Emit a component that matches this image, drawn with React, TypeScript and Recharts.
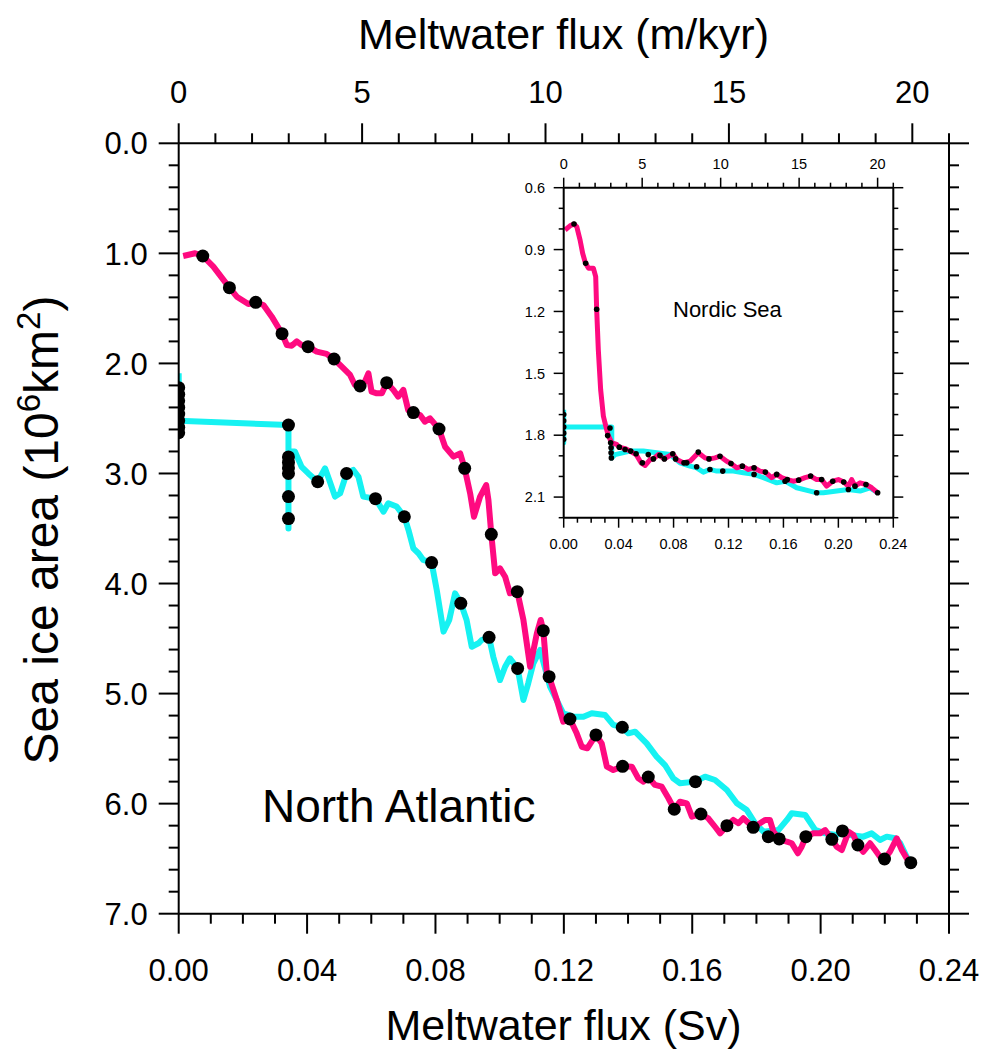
import React from 'react';
import { ComposedChart, Line, Scatter, XAxis, YAxis } from 'recharts';

const FONT = '"Liberation Sans", Arial, Helvetica, sans-serif';
const PINK = '#ff0a80';
const CYAN = '#16f2f2';

type P = [number, number];

// ---------- North Atlantic (main panel) ----------
const naPink: P[] = [
  [0.0014, 1.024], [0.0051, 0.999], [0.0075, 1.024], [0.0108, 1.121], [0.0158, 1.312], [0.0181, 1.394],
  [0.0217, 1.46], [0.024, 1.445], [0.0264, 1.469], [0.029, 1.575], [0.0322, 1.73], [0.0337, 1.833],
  [0.0352, 1.839], [0.0368, 1.8], [0.0383, 1.833], [0.0403, 1.848], [0.043, 1.893], [0.0461, 1.914],
  [0.0484, 1.96], [0.0508, 2.03], [0.0534, 2.105], [0.0549, 2.196], [0.0565, 2.205], [0.058, 2.166],
  [0.0591, 2.09], [0.0601, 2.257], [0.0617, 2.272], [0.0633, 2.272], [0.0648, 2.175], [0.0669, 2.241],
  [0.0684, 2.302], [0.07, 2.241], [0.0715, 2.423], [0.0731, 2.447], [0.0752, 2.469], [0.0767, 2.529],
  [0.0783, 2.499], [0.0811, 2.596], [0.083, 2.757], [0.0856, 2.847], [0.0877, 2.817], [0.0891, 2.953],
  [0.0908, 3.18], [0.092, 3.393], [0.0939, 3.21], [0.0958, 3.105], [0.0965, 3.241], [0.0974, 3.553],
  [0.0986, 3.907], [0.1001, 3.862], [0.1017, 3.938], [0.1032, 4.089], [0.1055, 4.074], [0.1074, 4.331],
  [0.1095, 4.756], [0.1116, 4.452], [0.1128, 4.331], [0.1136, 4.428], [0.1147, 4.816], [0.1154, 4.846],
  [0.1178, 5.058], [0.1198, 5.255], [0.1219, 5.231], [0.124, 5.361], [0.1256, 5.483], [0.1273, 5.497],
  [0.13, 5.376], [0.1318, 5.452], [0.1334, 5.664], [0.1354, 5.694], [0.1383, 5.661], [0.1412, 5.664],
  [0.1432, 5.77], [0.1448, 5.8], [0.1463, 5.758], [0.1484, 5.83], [0.1505, 5.846], [0.1526, 5.951],
  [0.1544, 6.051], [0.1562, 5.982], [0.1583, 5.997], [0.1599, 6.118], [0.1627, 6.094], [0.165, 6.133],
  [0.1671, 6.21], [0.1687, 6.27], [0.1708, 6.2], [0.1728, 6.148], [0.1744, 6.178], [0.1759, 6.133],
  [0.179, 6.215], [0.1811, 6.178], [0.1827, 6.148], [0.1842, 6.148], [0.1853, 6.255], [0.1871, 6.321],
  [0.1895, 6.346], [0.191, 6.36], [0.1929, 6.451], [0.1941, 6.391], [0.1954, 6.3], [0.1977, 6.27],
  [0.1998, 6.27], [0.2014, 6.24], [0.2035, 6.324], [0.205, 6.391], [0.2066, 6.421], [0.2087, 6.255],
  [0.2102, 6.285], [0.2116, 6.376], [0.2133, 6.437], [0.2154, 6.36], [0.217, 6.421], [0.2185, 6.482],
  [0.2199, 6.503], [0.2216, 6.437], [0.2237, 6.315], [0.2253, 6.421], [0.2268, 6.497], [0.2281, 6.536],
];

const naCyan: P[] = [
  [0, 2.09], [0, 2.62], [0, 2.52], [0.0342, 2.56], [0.0342, 3.5], [0.0342, 2.8], [0.0362, 2.8],
  [0.0383, 2.94], [0.0404, 3.0], [0.0433, 3.075], [0.0456, 2.953], [0.0471, 3.075], [0.0487, 3.21],
  [0.0503, 3.18], [0.0523, 3.0], [0.0544, 2.968], [0.056, 3.03], [0.0575, 3.21], [0.0613, 3.229],
  [0.0638, 3.347], [0.0653, 3.271], [0.0679, 3.3], [0.0703, 3.393], [0.0716, 3.514], [0.0731, 3.68],
  [0.0747, 3.725], [0.0762, 3.786], [0.0788, 3.81], [0.0804, 4.059], [0.0825, 4.437], [0.0843, 4.331],
  [0.0861, 4.089], [0.0879, 4.18], [0.0897, 4.331], [0.0913, 4.574], [0.0934, 4.543], [0.0944, 4.513],
  [0.0967, 4.489], [0.098, 4.665], [0.1001, 4.877], [0.1017, 4.756], [0.1032, 4.68], [0.1056, 4.771],
  [0.1074, 5.058], [0.1089, 4.907], [0.1105, 4.725], [0.1126, 4.604], [0.1157, 4.937], [0.1198, 5.179],
  [0.123, 5.21], [0.1261, 5.21], [0.1287, 5.179], [0.1328, 5.194], [0.1354, 5.285], [0.1382, 5.306],
  [0.1401, 5.361], [0.1422, 5.346], [0.1458, 5.452], [0.1489, 5.573], [0.1515, 5.649], [0.1541, 5.77],
  [0.1562, 5.815], [0.161, 5.8], [0.164, 5.755], [0.1671, 5.785], [0.1708, 5.876], [0.1739, 5.997],
  [0.177, 6.058], [0.1796, 6.178], [0.1822, 6.255], [0.1869, 6.239], [0.1895, 6.148], [0.191, 6.088],
  [0.1952, 6.103], [0.1983, 6.239], [0.2014, 6.27], [0.205, 6.285], [0.2068, 6.248], [0.2092, 6.285],
  [0.2133, 6.3], [0.2159, 6.27], [0.2185, 6.33], [0.2206, 6.3], [0.2232, 6.315], [0.2248, 6.36],
  [0.2268, 6.482], [0.2281, 6.536],
];

const naPinkDots: P[] = [
  [0.0075, 1.024], [0.0158, 1.312], [0.024, 1.445], [0.0322, 1.73], [0.0403, 1.848], [0.0484, 1.96],
  [0.0565, 2.205], [0.0648, 2.175], [0.0731, 2.447], [0.0811, 2.596], [0.0891, 2.953], [0.0974, 3.553],
  [0.1055, 4.074], [0.1136, 4.428], [0.1219, 5.231], [0.13, 5.376], [0.1383, 5.661], [0.1463, 5.758],
  [0.1544, 6.051], [0.1627, 6.094], [0.1708, 6.2], [0.179, 6.215], [0.1871, 6.321], [0.1954, 6.3],
  [0.2035, 6.324], [0.2116, 6.376], [0.2199, 6.503], [0.2281, 6.536],
];

const naCyanDots: P[] = [
  [0, 2.22], [0, 2.28], [0, 2.34], [0, 2.4], [0, 2.46], [0, 2.52], [0, 2.58], [0, 2.63],
  [0.0342, 2.56], [0.0342, 2.85], [0.0342, 2.9], [0.0342, 2.95], [0.0342, 3.0], [0.0342, 3.21],
  [0.0342, 3.41], [0.0433, 3.075], [0.0523, 3.0], [0.0613, 3.229], [0.0703, 3.393], [0.0788, 3.81],
  [0.0879, 4.18], [0.0967, 4.489], [0.1056, 4.771], [0.1154, 4.846], [0.1382, 5.306], [0.161, 5.8],
  [0.1837, 6.3], [0.2068, 6.248],
];

// ---------- Nordic Sea (inset) ----------
const nsPink: P[] = [
  [0.001, 0.805], [0.0046, 0.785], [0.0075, 0.776], [0.0095, 0.789], [0.0119, 0.853], [0.0138, 0.918],
  [0.0155, 0.958], [0.016, 0.966], [0.018, 0.99], [0.0216, 0.99], [0.0233, 1.031], [0.024, 1.189],
  [0.0252, 1.385], [0.0269, 1.579], [0.0289, 1.708], [0.0313, 1.773], [0.0325, 1.802], [0.035, 1.837],
  [0.0386, 1.845], [0.0405, 1.858], [0.0447, 1.865], [0.0483, 1.877], [0.0527, 1.894], [0.0563, 1.934],
  [0.0592, 1.947], [0.0629, 1.918], [0.0653, 1.915], [0.0689, 1.894], [0.0733, 1.915], [0.0794, 1.89],
  [0.0823, 1.918], [0.0871, 1.934], [0.092, 1.926], [0.098, 1.885], [0.1029, 1.91], [0.1058, 1.915],
  [0.1102, 1.91], [0.1138, 1.902], [0.1187, 1.926], [0.1218, 1.937], [0.126, 1.958], [0.1301, 1.95],
  [0.1345, 1.966], [0.1386, 1.958], [0.1429, 1.974], [0.1468, 1.979], [0.1514, 2.006], [0.1551, 1.99],
  [0.1587, 2.006], [0.1628, 2.015], [0.1672, 2.023], [0.1711, 2.018], [0.1757, 2.006], [0.1798, 1.998],
  [0.1842, 2.015], [0.1878, 2.015], [0.1915, 2.047], [0.1959, 2.023], [0.2, 2.015], [0.2039, 2.027],
  [0.2073, 2.047], [0.2097, 2.015], [0.2121, 2.047], [0.2158, 2.031], [0.2201, 2.039], [0.2243, 2.055],
  [0.2286, 2.079],
];

const nsCyan: P[] = [
  [0, 1.676], [0, 1.837], [0, 1.76], [0.035, 1.76], [0.035, 1.91], [0.0374, 1.894], [0.0483, 1.877],
  [0.058, 1.877], [0.0677, 1.885], [0.0774, 1.894], [0.0847, 1.934], [0.092, 1.95], [0.0968, 1.958],
  [0.1017, 1.979], [0.1065, 1.966], [0.1114, 1.974], [0.1158, 1.974], [0.1235, 1.974], [0.1308, 1.982],
  [0.1386, 1.99], [0.1454, 2.006], [0.1551, 2.031], [0.1612, 2.023], [0.1697, 2.055], [0.1794, 2.071],
  [0.1842, 2.079], [0.1891, 2.079], [0.1988, 2.071], [0.2073, 2.063], [0.2158, 2.071], [0.223, 2.055],
  [0.2286, 2.079],
];

const nsDots: P[] = [
  [0, 1.7], [0, 1.73], [0, 1.76], [0, 1.79], [0, 1.82],
  [0.0075, 0.776], [0.016, 0.966], [0.024, 1.189], [0.032, 1.802], [0.0337, 1.765], [0.0342, 1.837],
  [0.0345, 1.861], [0.0345, 1.885], [0.0347, 1.91], [0.0405, 1.858], [0.0447, 1.869], [0.0488, 1.877],
  [0.0527, 1.89], [0.0573, 1.934], [0.0616, 1.894], [0.0653, 1.915], [0.0701, 1.898], [0.0733, 1.915],
  [0.0794, 1.89], [0.0815, 1.915], [0.0876, 1.934], [0.0896, 1.934], [0.0968, 1.953], [0.098, 1.882],
  [0.1058, 1.915], [0.1065, 1.966], [0.1138, 1.902], [0.1158, 1.974], [0.1218, 1.937], [0.1301, 1.95],
  [0.1386, 1.958], [0.1386, 1.99], [0.1468, 1.979], [0.1551, 1.99], [0.1612, 2.023], [0.1628, 2.015],
  [0.1711, 2.018], [0.1798, 1.998], [0.1842, 2.079], [0.1878, 2.015], [0.1959, 2.023], [0.2039, 2.027],
  [0.2073, 2.063], [0.2121, 2.047], [0.2201, 2.039], [0.2286, 2.079],
];

// ---------- ticks ----------
const svMajor = [0, 0.04, 0.08, 0.12, 0.16, 0.2, 0.24];
const svAll = Array.from({ length: 25 }, (_, i) => i / 100);
const mkyrMajor = [0, 5, 10, 15, 20];
const mkyrAll = Array.from({ length: 22 }, (_, i) => i);
const mkyrRange = [0, 21]; // m/kyr extent equal to 0 .. 0.24 Sv
const naAreaMajor = [0, 1, 2, 3, 4, 5, 6, 7];
const naAreaAll = Array.from({ length: 36 }, (_, i) => i / 5);
const nsAreaMajor = [0.6, 0.9, 1.2, 1.5, 1.8, 2.1];
const nsAreaAll = Array.from({ length: 17 }, (_, i) => 0.6 + i / 10);

const toObj = (a: P[]) => a.map(([x, y]) => ({ x, y }));
const isIn = (v: number, arr: number[]) => arr.some((m) => Math.abs(m - v) < 1e-6);

type TickCfg = {
  side: 'bottom' | 'top' | 'left' | 'right';
  majors: number[];
  majorLen: number;
  minorLen: number;
  fontSize: number;
  offset: number;
  digits: number;
  labels: boolean;
  sw: number;
};

const makeTick = (c: TickCfg) => (props: any) => {
  const { x, y, payload } = props;
  const v = payload.value;
  const major = isIn(v, c.majors);
  const len = major ? c.majorLen : c.minorLen;
  const label = c.labels && major ? Number(v).toFixed(c.digits) : null;
  let x2 = x;
  let y2 = y;
  let tx = x;
  let ty = y;
  let anchor: 'middle' | 'end' | 'start' = 'middle';
  let dy = '0';
  if (c.side === 'bottom') { y2 = y + len; ty = y + c.offset; }
  if (c.side === 'top') { y2 = y - len; ty = y - c.offset; }
  if (c.side === 'left') { x2 = x - len; tx = x - c.offset; anchor = 'end'; dy = '0.36em'; }
  if (c.side === 'right') { x2 = x + len; }
  return (
    <g>
      <line x1={x} y1={y} x2={x2} y2={y2} stroke="#000" strokeWidth={c.sw} />
      {label !== null && (
        <text x={tx} y={ty} dy={dy} textAnchor={anchor} fontSize={c.fontSize} fontFamily={FONT} fill="#000">
          {label}
        </text>
      )}
    </g>
  );
};

const dotShape = (r: number) => (props: any) => <circle cx={props.cx} cy={props.cy} r={r} fill="#000" />;

const axisLine = (w: number) => ({ stroke: '#000', strokeWidth: w });

// invisible carrier so that the secondary (top) axis has an extent to draw
const topCarrier = (yv: number) => mkyrRange.map((x) => ({ x, y: yv }));

export default function App() {
  return (
    <div style={{ position: 'absolute', left: 0, top: 0, width: 989, height: 1055, background: '#fff' }}>
      <div style={{ position: 'absolute', left: 0, top: 0 }}>
        <ComposedChart width={989} height={1055} margin={{ top: 83.3, bottom: 81.3, left: 78.7, right: 10 }}>
          <XAxis
            xAxisId={0} dataKey="x" type="number" domain={[0, 0.24]} allowDataOverflow orientation="bottom"
            height={60} ticks={svAll} interval={0} tickSize={0} tickMargin={0} axisLine={axisLine(2)} tickLine={false}
            tick={makeTick({ side: 'bottom', majors: svMajor, majorLen: 20, minorLen: 10, fontSize: 31, offset: 67, digits: 2, labels: true, sw: 2 })}
          />
          <XAxis
            xAxisId="top" dataKey="x" type="number" domain={[0, 21]} allowDataOverflow orientation="top"
            height={60} ticks={mkyrAll} interval={0} tickSize={0} tickMargin={0} axisLine={axisLine(2)} tickLine={false}
            tick={makeTick({ side: 'top', majors: mkyrMajor, majorLen: 20, minorLen: 10, fontSize: 31, offset: 40, digits: 0, labels: true, sw: 2 })}
          />
          <YAxis
            yAxisId={0} dataKey="y" type="number" domain={[0, 7]} allowDataOverflow reversed orientation="left"
            width={100} ticks={naAreaAll} interval={0} tickSize={0} tickMargin={0} axisLine={axisLine(2)} tickLine={false}
            tick={makeTick({ side: 'left', majors: naAreaMajor, majorLen: 20, minorLen: 10, fontSize: 31, offset: 31, digits: 1, labels: true, sw: 2 })}
          />
          <YAxis
            yAxisId="right" dataKey="y" type="number" domain={[0, 7]} allowDataOverflow reversed orientation="right"
            width={30} ticks={naAreaAll} interval={0} tickSize={0} tickMargin={0} axisLine={axisLine(2)} tickLine={false}
            tick={makeTick({ side: 'right', majors: naAreaMajor, majorLen: 20, minorLen: 10, fontSize: 31, offset: 0, digits: 1, labels: false, sw: 2 })}
          />
          <Line data={topCarrier(0)} xAxisId="top" yAxisId="right" dataKey="y" stroke="none" strokeWidth={0} dot={false} activeDot={false} isAnimationActive={false} />
          <Line data={toObj(naCyan)} dataKey="y" type="linear" stroke={CYAN} strokeWidth={6} dot={false} activeDot={false} isAnimationActive={false} strokeLinejoin="round" />
          <Line data={toObj(naPink)} dataKey="y" type="linear" stroke={PINK} strokeWidth={6} dot={false} activeDot={false} isAnimationActive={false} strokeLinejoin="round" />
          <Scatter data={toObj(naCyanDots)} dataKey="y" fill="#000" shape={dotShape(6.5)} isAnimationActive={false} />
          <Scatter data={toObj(naPinkDots)} dataKey="y" fill="#000" shape={dotShape(6.5)} isAnimationActive={false} />
        </ComposedChart>
      </div>

      <div style={{ position: 'absolute', left: 490, top: 120 }}>
        <ComposedChart width={440} height={460} margin={{ top: 27.7, bottom: 22.3, left: 33.7, right: 16.7 }}>
          <XAxis
            xAxisId={0} dataKey="x" type="number" domain={[0, 0.24]} allowDataOverflow orientation="bottom"
            height={40} ticks={svAll} interval={0} tickSize={0} tickMargin={0} axisLine={axisLine(2)} tickLine={false}
            tick={makeTick({ side: 'bottom', majors: svMajor, majorLen: 10, minorLen: 5, fontSize: 14.5, offset: 31, digits: 2, labels: true, sw: 1.5 })}
          />
          <XAxis
            xAxisId="top" dataKey="x" type="number" domain={[0, 21]} allowDataOverflow orientation="top"
            height={40} ticks={mkyrAll} interval={0} tickSize={0} tickMargin={0} axisLine={axisLine(2)} tickLine={false}
            tick={makeTick({ side: 'top', majors: mkyrMajor, majorLen: 10, minorLen: 5, fontSize: 14.5, offset: 19, digits: 0, labels: true, sw: 1.5 })}
          />
          <YAxis
            yAxisId={0} dataKey="y" type="number" domain={[0.6, 2.2]} allowDataOverflow reversed orientation="left"
            width={40} ticks={nsAreaAll} interval={0} tickSize={0} tickMargin={0} axisLine={axisLine(2)} tickLine={false}
            tick={makeTick({ side: 'left', majors: nsAreaMajor, majorLen: 10, minorLen: 5, fontSize: 14.5, offset: 18.7, digits: 1, labels: true, sw: 1.5 })}
          />
          <YAxis
            yAxisId="right" dataKey="y" type="number" domain={[0.6, 2.2]} allowDataOverflow reversed orientation="right"
            width={20} ticks={nsAreaAll} interval={0} tickSize={0} tickMargin={0} axisLine={axisLine(2)} tickLine={false}
            tick={makeTick({ side: 'right', majors: nsAreaMajor, majorLen: 10, minorLen: 5, fontSize: 14.5, offset: 0, digits: 1, labels: false, sw: 1.5 })}
          />
          <Line data={topCarrier(1)} xAxisId="top" yAxisId="right" dataKey="y" stroke="none" strokeWidth={0} dot={false} activeDot={false} isAnimationActive={false} />
          <Line data={toObj(nsCyan)} dataKey="y" type="linear" stroke={CYAN} strokeWidth={5} dot={false} activeDot={false} isAnimationActive={false} strokeLinejoin="round" />
          <Line data={toObj(nsPink)} dataKey="y" type="linear" stroke={PINK} strokeWidth={5} dot={false} activeDot={false} isAnimationActive={false} strokeLinejoin="round" />
          <Scatter data={toObj(nsDots)} dataKey="y" fill="#000" shape={dotShape(2.8)} isAnimationActive={false} />
        </ComposedChart>
      </div>

      <svg width={989} height={1055} style={{ position: 'absolute', left: 0, top: 0, pointerEvents: 'none' }}>
        <g fontFamily={FONT} fill="#000">
          <text x={563.5} y={49} textAnchor="middle" fontSize={43}>Meltwater flux (m/kyr)</text>
          <text x={563.5} y={1040} textAnchor="middle" fontSize={43}>Meltwater flux (Sv)</text>
          <text transform="translate(58,530) rotate(-90)" textAnchor="middle" fontSize={48}>
            Sea ice area (10<tspan dy={-18} fontSize={33}>6</tspan><tspan dy={18}>km</tspan><tspan dy={-18} fontSize={33}>2</tspan><tspan dy={18}>)</tspan>
          </text>
          <text x={262} y={822} fontSize={46}>North Atlantic</text>
          <text x={673} y={316.5} fontSize={22}>Nordic Sea</text>
        </g>
      </svg>
    </div>
  );
}
